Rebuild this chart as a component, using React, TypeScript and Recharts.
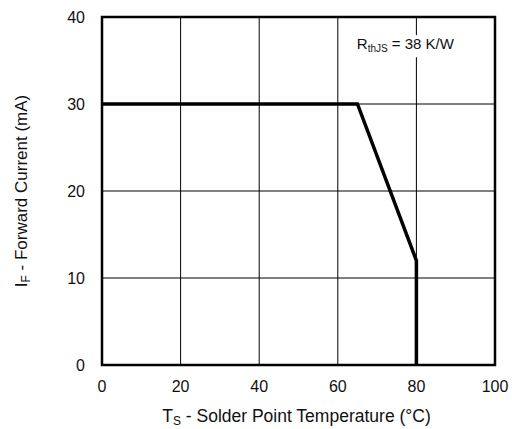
import React from "react";
import {
  LineChart,
  Line,
  XAxis,
  YAxis,
  CartesianGrid,
  ReferenceArea,
  ReferenceDot,
} from "recharts";

const temperatures = [0, 65, 80, 80];
const currents = [30, 30, 12, 0];
const xTicks = [0, 20, 40, 60, 80, 100];
const yTicks = [0, 10, 20, 30, 40];
const annotation = { x: 77.2, y: 36.3 };

const data = temperatures.map((t, i) => ({ t, i: currents[i] }));

const FONT = "'Liberation Sans', Arial, sans-serif";

const XLabel = (props: any) => {
  const vb = props.viewBox || {};
  const cx = vb.x + vb.width / 2 - 2;
  const y = vb.y + 57;
  return (
    <text x={cx} y={y} textAnchor="middle" fontFamily={FONT} fontSize={17.5} fill="#111">
      <tspan>T</tspan>
      <tspan fontSize={12} dy={3}>S</tspan>
      <tspan dy={-3}> - Solder Point Temperature (°C)</tspan>
    </text>
  );
};

const YLabel = (props: any) => {
  const vb = props.viewBox || {};
  const cx = 27;
  const cy = vb.y + vb.height / 2;
  return (
    <text
      x={cx}
      y={cy}
      textAnchor="middle"
      fontFamily={FONT}
      fontSize={17}
      fill="#111"
      transform={`rotate(-90, ${cx}, ${cy})`}
    >
      <tspan>I</tspan>
      <tspan fontSize={12} dy={3}>F</tspan>
      <tspan dy={-3}> - Forward Current (mA)</tspan>
    </text>
  );
};

const AnnotationLabel = (props: any) => {
  const vb = props.viewBox || {};
  const x = vb.x + (vb.width || 0) / 2;
  const y = vb.y + (vb.height || 0) / 2;
  return (
    <g>
      <rect x={x - 53} y={y - 14} width={106} height={22} fill="#fff" />
      <text x={x} y={y} textAnchor="middle" fontFamily={FONT} fontSize={15} fill="#111">
        <tspan>R</tspan>
        <tspan fontSize={10} dy={3}>thJS</tspan>
        <tspan dy={-3}> = 38 K/W</tspan>
      </text>
    </g>
  );
};

export default function App() {
  return (
    <div style={{ position: "absolute", left: 0, top: 0, width: 512, height: 429, background: "#fff" }}>
      <LineChart
        width={512}
        height={429}
        data={data}
        margin={{ top: 17, right: 17, bottom: 0, left: 0 }}
      >
        <CartesianGrid stroke="#000" strokeWidth={1} horizontalValues={yTicks} verticalValues={xTicks} />
        <XAxis
          type="number"
          dataKey="t"
          domain={[0, 100]}
          ticks={xTicks}
          interval={0}
          height={64}
          tickSize={0}
          tickMargin={16}
          axisLine={false}
          tickLine={false}
          tick={{ fill: "#111", fontSize: 16, fontFamily: FONT }}
          label={{ content: XLabel } as any}
        />
        <YAxis
          type="number"
          domain={[0, 40]}
          ticks={yTicks}
          interval={0}
          width={102}
          tickSize={0}
          tickMargin={17}
          axisLine={false}
          tickLine={false}
          tick={{ fill: "#111", fontSize: 16, fontFamily: FONT }}
          label={{ content: YLabel } as any}
        />
        <ReferenceDot
          x={annotation.x}
          y={annotation.y}
          r={0}
          fill="none"
          stroke="none"
          label={{ content: AnnotationLabel } as any}
        />
        <ReferenceArea
          x1={0}
          x2={100}
          y1={0}
          y2={40}
          fill="none"
          fillOpacity={0}
          stroke="#000"
          strokeWidth={2.5}
          ifOverflow="visible"
        />
        <Line
          type="linear"
          dataKey="i"
          stroke="#000"
          strokeWidth={3.5}
          dot={false}
          isAnimationActive={false}
        />
      </LineChart>
    </div>
  );
}
